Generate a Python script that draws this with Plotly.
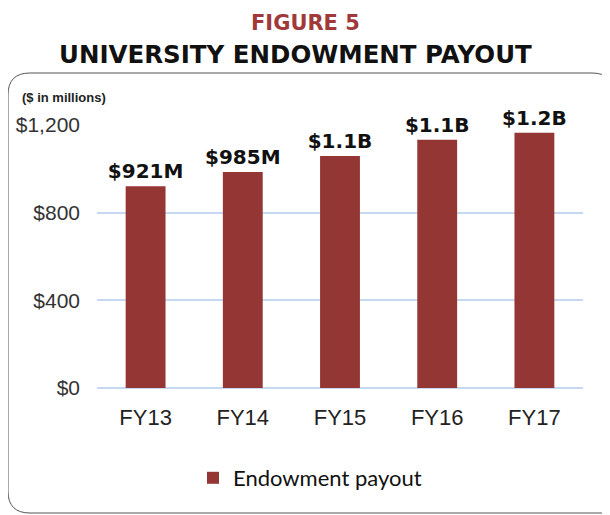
import plotly.graph_objects as go

years = ["FY13", "FY14", "FY15", "FY16", "FY17"]
payout = [921, 985, 1058, 1133, 1165]
labels = ["$921M", "$985M", "$1.1B", "$1.1B", "$1.2B"]
y_ticks = [0, 400, 800, 1200]
y_tick_text = ["$0", "$400", "$800", "$1,200"]

# page body has an 8px margin, so the figure is a bit smaller than the window
OFF = 8
W, H = 602, 507
L, R, T, B = 89, 27, 117, 127
PW, PH = W - L - R, H - T - B


def px(x):
    # page pixel x -> paper x
    return (x - OFF - L) / PW


def py(y):
    # page pixel y -> paper y
    return (H - B - (y - OFF)) / PH


bar_color = "#943634"

fig = go.Figure()
fig.add_trace(go.Bar(
    x=years,
    y=payout,
    name="Endowment payout",
    marker=dict(color=bar_color, line=dict(width=0)),
    text=labels,
    textposition="outside",
    constraintext="none",
    textfont=dict(family="DejaVu Sans", size=20, color="#111111", weight="bold"),
    cliponaxis=False,
    width=0.41,
))

# rounded frame around the chart
x0, x1, y0, y1, r = 8, 614, 73, 513, 22
path = (
    f"M {px(x0)},{py(y0 + r)} "
    f"Q {px(x0)},{py(y0)} {px(x0 + r)},{py(y0)} "
    f"L {px(x1 - r)},{py(y0)} "
    f"Q {px(x1)},{py(y0)} {px(x1)},{py(y0 + r)} "
    f"L {px(x1)},{py(y1)} L {px(x0 + r)},{py(y1)} "
    f"Q {px(x0)},{py(y1)} {px(x0)},{py(y1 - r)} Z"
)

fig.update_layout(
    width=W,
    height=H,
    margin=dict(l=L, r=R, t=T, b=B, autoexpand=False),
    paper_bgcolor="white",
    plot_bgcolor="white",
    bargap=0.59,
    font=dict(family="Liberation Sans", color="#222222"),
    shapes=[dict(type="path", xref="paper", yref="paper", path=path,
                 line=dict(color="#555555", width=1), layer="below")],
    annotations=[
        dict(text="FIGURE 5", xref="paper", yref="paper", x=px(305), y=py(23),
             xanchor="center", yanchor="middle", showarrow=False,
             font=dict(family="DejaVu Sans", size=21, color="#a0393a", weight="bold")),
        dict(text="UNIVERSITY ENDOWMENT PAYOUT", xref="paper", yref="paper", x=px(295), y=py(55),
             xanchor="center", yanchor="middle", showarrow=False,
             font=dict(family="DejaVu Sans", size=24.5, color="#111111", weight="bold")),
        dict(text="($ in millions)", xref="paper", yref="paper", x=px(20), y=py(97),
             xanchor="left", yanchor="middle", showarrow=False,
             font=dict(family="Liberation Sans", size=13, color="#222222", weight="bold")),
    ],
    legend=dict(orientation="h", x=px(310), xanchor="center", y=py(478), yanchor="middle",
                font=dict(family="Lato", size=22, color="#111111"), itemwidth=30),
    showlegend=True,
)

fig.update_xaxes(
    automargin=False,
    showgrid=False,
    showline=False,
    ticks="",
    tickfont=dict(family="Liberation Sans", size=22, color="#222222"),
    ticklabelstandoff=14,
)
fig.update_yaxes(
    automargin=False,
    range=[0, 1200],
    tickvals=y_ticks,
    ticktext=y_tick_text,
    showgrid=True,
    gridcolor="#c6d9f0",
    gridwidth=1.5,
    zeroline=True,
    zerolinecolor="#c6d9f0",
    zerolinewidth=1.5,
    tickfont=dict(family="Liberation Sans", size=21, color="#333333"),
    ticklabelstandoff=16,
)

fig.write_html("out.html")
